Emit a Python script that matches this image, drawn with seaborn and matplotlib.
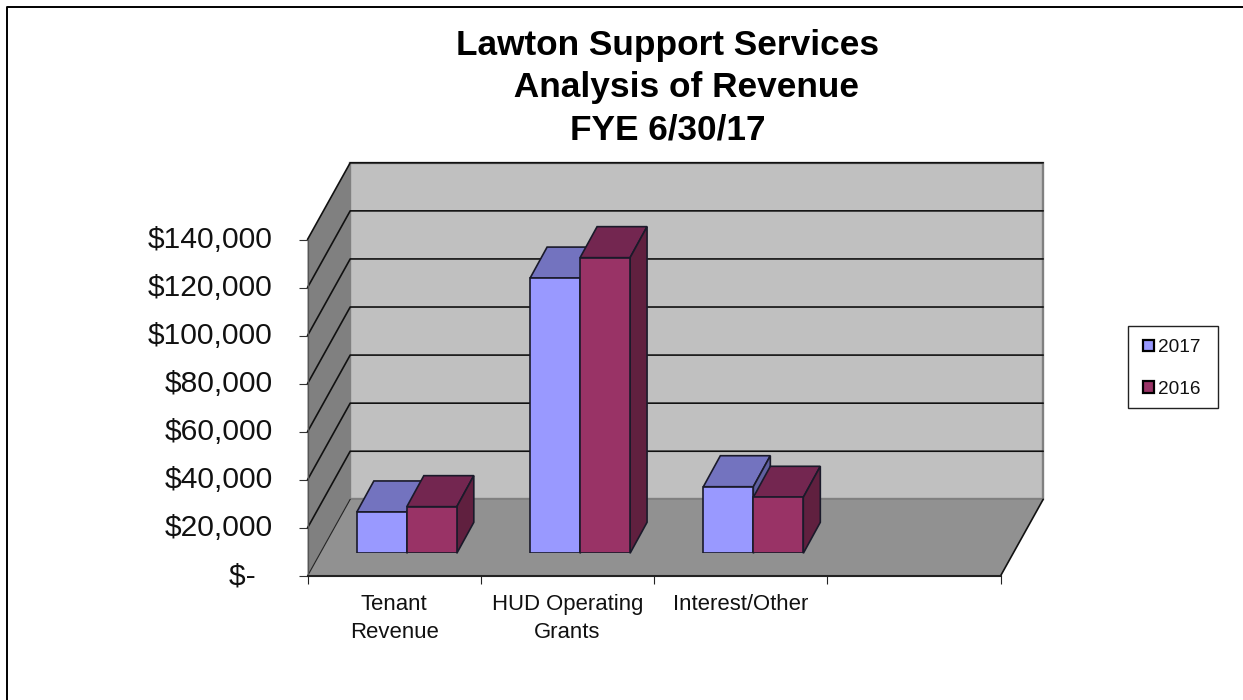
import matplotlib
matplotlib.use("Agg")
import matplotlib.pyplot as plt
from matplotlib.lines import Line2D
from matplotlib.patches import Polygon, Patch, Rectangle
from matplotlib.transforms import ScaledTranslation
import pandas as pd
import seaborn as sns

# Revenue by source and fiscal year
categories = ["Tenant\nRevenue", "HUD Operating\nGrants", "Interest/Other"]
revenue_2017 = [17200, 114500, 27700]
revenue_2016 = [19400, 123000, 23300]
years = ["2017", "2016"]
y_ticks = [0, 20000, 40000, 60000, 80000, 100000, 120000, 140000]
y_tick_labels = ["$-  ", "$20,000", "$40,000", "$60,000", "$80,000",
                 "$100,000", "$120,000", "$140,000"]
title_text = "Lawton Support Services\n    Analysis of Revenue\nFYE 6/30/17"

front_colors = {"2017": "#9999FF", "2016": "#993366"}
top_colors = {"2017": "#7373BF", "2016": "#732650"}
side_colors = {"2017": "#6060A0", "2016": "#60203F"}

W, H = 1243, 700
DPI = 100
sns.set_theme(style="white")
plt.rcParams["font.family"] = ["Liberation Sans", "DejaVu Sans"]

df = pd.DataFrame({
    "category": categories * 2,
    "revenue": revenue_2017 + revenue_2016,
    "year": [years[0]] * 3 + [years[1]] * 3,
})

fig = plt.figure(figsize=(W / DPI, H / DPI), dpi=DPI, facecolor="white")

# Front plane of the box, placed in figure pixels
LEFT, RIGHT, BOTTOM, TOP = 307.5, 1000.5, 576.0, 239.5
def axes_rect(dx=0.0, dy=0.0):
    return [(LEFT + dx) / W, (H - BOTTOM + dy) / H,
            (RIGHT - LEFT) / W, (BOTTOM - TOP) / H]

ax = fig.add_axes(axes_rect())
ax.set_xlim(-0.5, 3.5)
ax.set_ylim(0, 140000)
x_per_px = 4 / (RIGHT - LEFT)
y_per_px = 140000 / (BOTTOM - TOP)

# Depth of the box, in data units
box_dx = 42.7 * x_per_px
box_dy = 76.7 * y_per_px
x0, x1 = -0.5, 3.5
y_max = 140000

ax.add_patch(Polygon([(x0 + box_dx, box_dy), (x1 + box_dx, box_dy),
                      (x1 + box_dx, y_max + box_dy), (x0 + box_dx, y_max + box_dy)],
                     facecolor="#C0C0C0", edgecolor="#808080", lw=1.7, clip_on=False, zorder=1))
ax.add_patch(Polygon([(x0, 0), (x0 + box_dx, box_dy),
                      (x0 + box_dx, y_max + box_dy), (x0, y_max)],
                     facecolor="#808080", edgecolor="none", clip_on=False, zorder=1))
ax.add_patch(Polygon([(x0, 0), (x1, 0), (x1 + box_dx, box_dy), (x0 + box_dx, box_dy)],
                     facecolor="#919191", edgecolor="none", clip_on=False, zorder=1))

# Gridlines run along the side wall and across the back wall
for tick in y_ticks[1:]:
    ax.plot([x0, x0 + box_dx, x1 + box_dx], [tick, tick + box_dy, tick + box_dy],
            color="#111111", lw=1.2, clip_on=False, zorder=2)
ax.plot([x0 + box_dx, x1 + box_dx], [box_dy, box_dy], color="#808080", lw=1.2, clip_on=False, zorder=2)
ax.plot([x0, x0 + box_dx], [0, box_dy], color="#222222", lw=0.8, clip_on=False, zorder=2)
ax.plot([x1, x1 + box_dx], [0, box_dy], color="#111111", lw=1.2, clip_on=False, zorder=2)

# Axis ticks and labels
ax.set_yticks(y_ticks, y_tick_labels)
ax.set_xticks([0, 1, 2], categories)
ax.set_xticks([-0.5, 0.5, 1.5, 2.5, 3.5], minor=True)
ax.tick_params(axis="y", left=True, length=6.5, width=0.8, color="#333333", pad=18.5,
               labelsize=21.6, labelcolor="#111111")
ax.tick_params(axis="x", which="major", bottom=False, pad=7, labelsize=15.9, labelcolor="#111111")
ax.tick_params(axis="x", which="minor", bottom=True, length=5.5, width=0.8, color="#222222")
for label in ax.get_xticklabels():
    label.set_linespacing(1.42)
label_lift = ScaledTranslation(0, 2.5 / DPI, fig.dpi_scale_trans)
for label in ax.get_yticklabels():
    label.set_transform(label.get_transform() + label_lift)
for name in ("top", "right"):
    ax.spines[name].set_visible(False)
ax.spines["left"].set_color("#555555")
ax.spines["left"].set_linewidth(0.9)
ax.spines["bottom"].set_color("#222222")
ax.spines["bottom"].set_linewidth(1.5)
ax.spines["bottom"].set_zorder(3)

# Bars stand a little way in from the front edge of the floor
bars_ax = fig.add_axes(axes_rect(12.7, 22.7), facecolor="none")
sns.barplot(data=df, x="category", y="revenue", hue="year", hue_order=years,
            palette=front_colors, saturation=1, width=0.577, gap=0,
            edgecolor="#1a1a2a", linewidth=1.2, ax=bars_ax)
bars_ax.set_xlim(-0.5, 3.5)
bars_ax.set_ylim(0, 140000)
bars_ax.axis("off")
bars_ax.get_legend().remove()

# Top and side faces sit behind each bar's front face
bar_dx = 17 * x_per_px
bar_dy = 31 * y_per_px
z = 5
for container, year in zip(bars_ax.containers, years):
    for bar in container:
        xa, w, h = bar.get_x(), bar.get_width(), bar.get_height()
        xb = xa + w
        bars_ax.add_patch(Polygon([(xa, h), (xb, h), (xb + bar_dx, h + bar_dy), (xa + bar_dx, h + bar_dy)],
                                  facecolor=top_colors[year], edgecolor="#1a1a2a", lw=1.2,
                                  clip_on=False, zorder=z))
        bars_ax.add_patch(Polygon([(xb, 0), (xb + bar_dx, bar_dy), (xb + bar_dx, h + bar_dy), (xb, h)],
                                  facecolor=side_colors[year], edgecolor="#1a1a2a", lw=1.2,
                                  clip_on=False, zorder=z))
        bar.set_zorder(z + 1)
    z += 2

fig.text(668 / W, 1 - 87.5 / H, title_text, ha="center", va="center", fontsize=25.4,
         fontweight="bold", color="black", linespacing=1.35)

# Legend box at the right of the chart
fig.add_artist(Rectangle((1128 / W, 1 - 408 / H), 89.5 / W, 82 / H, facecolor="white",
                         edgecolor="#222222", lw=1.0, transform=fig.transFigure))
legend_handles = [Patch(facecolor=front_colors[y], edgecolor="black", lw=1.6) for y in years]
legend = fig.legend(legend_handles, years, loc="center", bbox_to_anchor=(1172 / W, 1 - 368.5 / H),
                    fontsize=13.7, frameon=False, handlelength=0.55, handleheight=0.55,
                    handletextpad=0.25, labelspacing=1.28, borderpad=0, labelcolor="#111111",
                    borderaxespad=0)
legend.set_zorder(5)

# Slide border along the top and left edges
fig.add_artist(Line2D([6.6 / W, 6.6 / W, 1243 / W], [0, 1 - 6.6 / H, 1 - 6.6 / H],
                      color="black", lw=1.4, transform=fig.transFigure))

fig.savefig("out.png", dpi=DPI)
